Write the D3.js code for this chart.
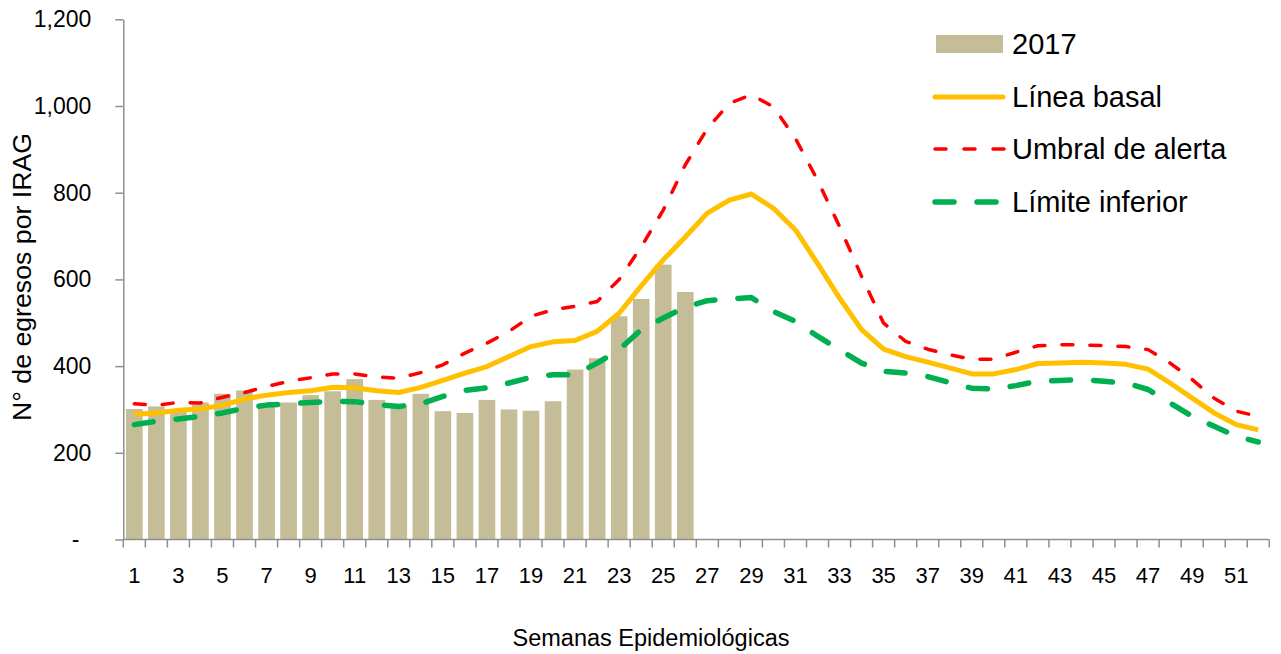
<!DOCTYPE html>
<html>
<head>
<meta charset="utf-8">
<script src="https://cdn.jsdelivr.net/npm/d3@7"></script>
<style>
  html, body { margin: 0; padding: 0; background: #ffffff; }
  svg { display: block; font-family: "Liberation Sans", Arial, sans-serif; }
</style>
</head>
<body>
<svg id="chart" width="1281" height="654"></svg>
<script>
// ---- Data ----
const weeks = d3.range(1, 53);
const bars2017 = [301, 307, 297, 316, 336, 344, 314, 316, 333, 342, 370, 322, 311, 336, 296, 292, 322, 300, 297, 319, 392, 418, 515, 555, 634, 571];
const lineaBasal = [289, 292, 298, 301, 310, 324, 333, 339, 343, 351, 350, 343, 339, 351, 367, 384, 399, 422, 445, 456, 459, 480, 522, 585, 645, 698, 753, 783, 797, 764, 714, 637, 557, 484, 439, 422, 409, 396, 382, 382, 392, 406, 407, 409, 407, 404, 393, 361, 326, 292, 265, 253];
const umbralAlerta = [313, 310, 316, 315, 328, 339, 353, 365, 373, 382, 382, 375, 372, 385, 403, 430, 453, 480, 515, 530, 538, 549, 600, 675, 760, 864, 948, 1006, 1026, 998, 925, 829, 722, 607, 499, 457, 439, 426, 416, 416, 432, 447, 449, 449, 447, 445, 438, 407, 369, 326, 296, 284];
const limiteInferior = [265, 273, 278, 284, 292, 303, 310, 313, 316, 319, 318, 311, 307, 313, 330, 344, 350, 361, 374, 380, 380, 407, 438, 484, 511, 536, 551, 555, 558, 526, 503, 469, 438, 407, 388, 384, 376, 362, 349, 347, 355, 365, 367, 369, 365, 361, 346, 315, 284, 261, 238, 225];
const yTicks = [0, 200, 400, 600, 800, 1000, 1200];
const xTickLabels = weeks.filter(w => w % 2 === 1);
const legendLabels = ["2017", "Línea basal", "Umbral de alerta", "Límite inferior"];
const seriesColors = { bar: "#C4BD97", basal: "#FFC000", umbral: "#FF0000", limite: "#00B050" };

// ---- Layout ----
const svg = d3.select("#chart");
const plotL = 123.3, plotR = 1269.3, plotT = 19.3, plotB = 539.5;
const axisColor = "#8f8f8f";

const x = d3.scaleBand().domain(weeks).range([plotL, plotR]).paddingInner(0.245).paddingOuter(0.1225);
const y = d3.scaleLinear().domain([0, 1200]).range([plotB, plotT]);
const cx = d => x(d) + x.bandwidth() / 2;

// Bars
svg.append("g").selectAll("rect").data(bars2017).join("rect")
  .attr("x", (d, i) => x(weeks[i]))
  .attr("y", d => y(d))
  .attr("width", x.bandwidth())
  .attr("height", d => y(0) - y(d))
  .attr("fill", seriesColors.bar);

// Axes
const yAxis = d3.axisLeft(y).tickValues(yTicks).tickSize(8).tickSizeOuter(0).tickPadding(24)
  .tickFormat(d => d === 0 ? "-" : d3.format(",")(d));
const gy = svg.append("g").attr("transform", `translate(${plotL},0)`).call(yAxis);
gy.select(".domain").attr("stroke", axisColor).attr("stroke-width", 1.5);
gy.selectAll(".tick line").attr("stroke", axisColor).attr("stroke-width", 1.5);
gy.selectAll(".tick text").attr("font-size", 23).attr("fill", "#000")
  .attr("font-family", "'Liberation Sans', Arial, sans-serif")
  .attr("dx", d => d === 0 ? -12 : 0);

// X axis line + boundary ticks
const step = x.step();
const boundaries = weeks.map(w => x(w) - step * x.paddingInner() / 2).concat([plotR]);
svg.append("line").attr("x1", plotL).attr("x2", plotR).attr("y1", y(0)).attr("y2", y(0))
  .attr("stroke", axisColor).attr("stroke-width", 1.5);
svg.append("g").selectAll("line").data(boundaries).join("line")
  .attr("x1", d => d).attr("x2", d => d)
  .attr("y1", y(0)).attr("y2", y(0) + 8)
  .attr("stroke", axisColor).attr("stroke-width", 1.5);
svg.append("g").selectAll("text").data(xTickLabels).join("text")
  .attr("x", d => cx(d)).attr("y", 583)
  .attr("text-anchor", "middle").attr("font-size", 22).attr("fill", "#000")
  .text(d => d);

// Lines
const lineGen = arr => d3.line().x((d, i) => cx(weeks[i])).y(d => y(d))(arr);
svg.append("path").attr("d", lineGen(limiteInferior)).attr("fill", "none")
  .attr("stroke", seriesColors.limite).attr("stroke-width", 5.5)
  .attr("stroke-dasharray", "19,23").attr("stroke-linecap", "round").attr("stroke-linejoin", "round");
svg.append("path").attr("d", lineGen(lineaBasal)).attr("fill", "none")
  .attr("stroke", seriesColors.basal).attr("stroke-width", 5)
  .attr("stroke-linejoin", "round");
svg.append("path").attr("d", lineGen(umbralAlerta)).attr("fill", "none")
  .attr("stroke", seriesColors.umbral).attr("stroke-width", 3.5)
  .attr("stroke-dasharray", "11,17").attr("stroke-linecap", "round").attr("stroke-linejoin", "round");

// Axis titles
svg.append("text").attr("transform", "translate(31,277) rotate(-90)")
  .attr("text-anchor", "middle").attr("font-size", 26.7).attr("fill", "#000")
  .text("N° de egresos por IRAG");
svg.append("text").attr("x", 651).attr("y", 646)
  .attr("text-anchor", "middle").attr("font-size", 23.5).attr("fill", "#000")
  .text("Semanas Epidemiológicas");

// Legend
const legY = [44, 97, 149, 202];
const lg = svg.append("g");
lg.append("rect").attr("x", 936).attr("y", legY[0] - 9).attr("width", 67).attr("height", 18).attr("fill", seriesColors.bar);
lg.append("line").attr("x1", 935).attr("x2", 1003).attr("y1", legY[1]).attr("y2", legY[1])
  .attr("stroke", seriesColors.basal).attr("stroke-width", 5).attr("stroke-linecap", "round");
lg.append("line").attr("x1", 935).attr("x2", 1004).attr("y1", legY[2]).attr("y2", legY[2])
  .attr("stroke", seriesColors.umbral).attr("stroke-width", 3.5).attr("stroke-dasharray", "11,18").attr("stroke-linecap", "round");
lg.append("line").attr("x1", 935).attr("x2", 997).attr("y1", legY[3]).attr("y2", legY[3])
  .attr("stroke", seriesColors.limite).attr("stroke-width", 5.5).attr("stroke-dasharray", "19,23").attr("stroke-linecap", "round");
lg.selectAll("text").data(legendLabels).join("text")
  .attr("x", 1012).attr("y", (d, i) => legY[i] + 10)
  .attr("font-size", 29).attr("fill", "#000")
  .text(d => d);
</script>
</body>
</html>
